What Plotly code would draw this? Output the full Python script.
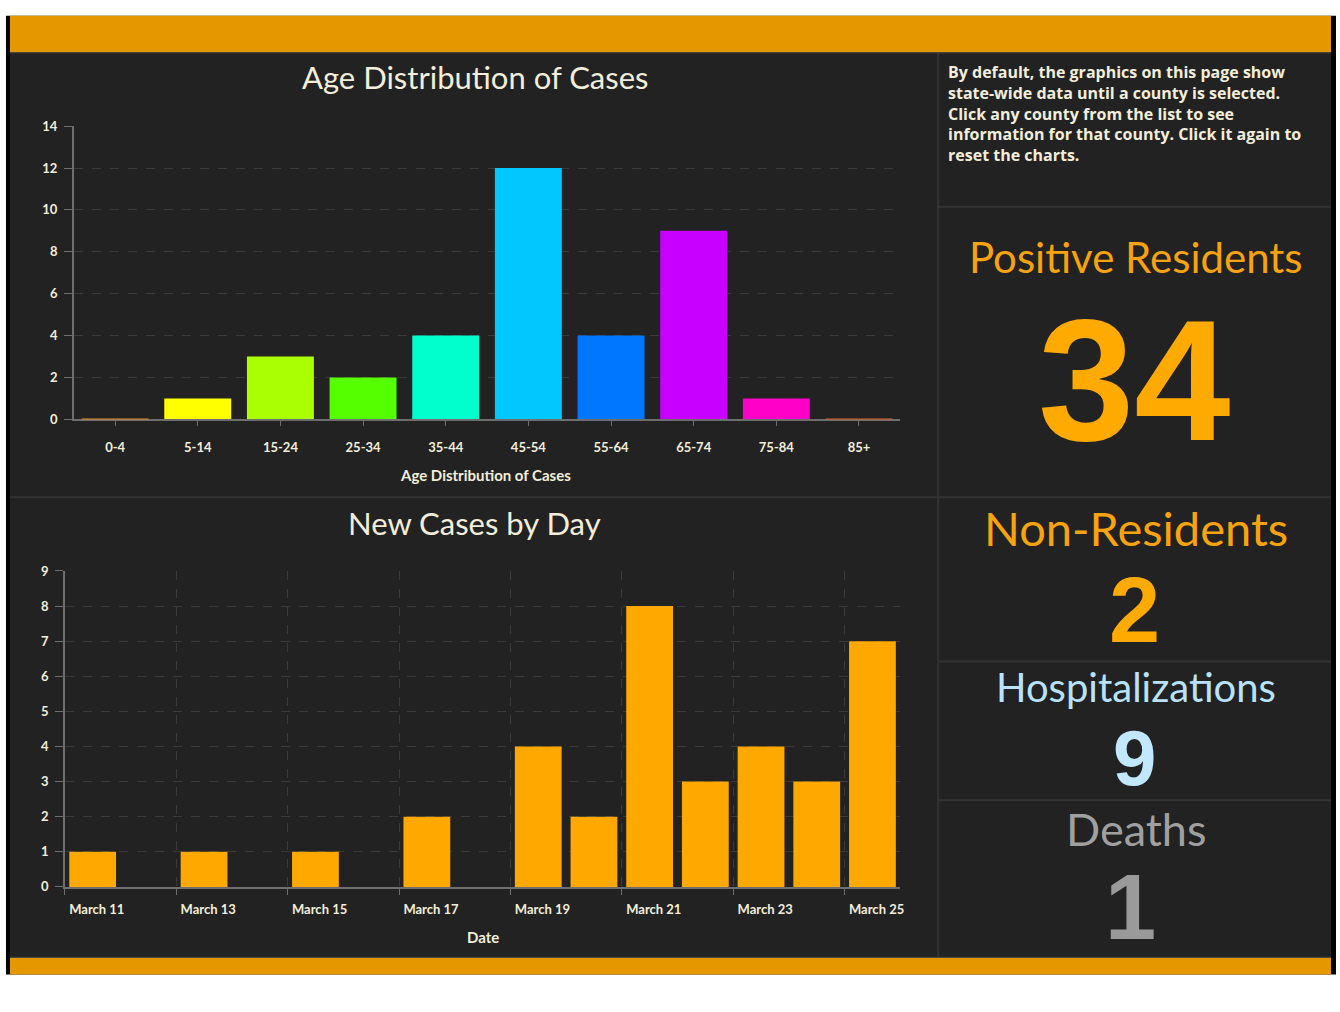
import plotly.graph_objects as go

# ---------------- data ----------------
age_groups = ["0-4", "5-14", "15-24", "25-34", "35-44", "45-54", "55-64", "65-74", "75-84", "85+"]
age_cases = [0, 1, 3, 2, 4, 12, 4, 9, 1, 0]
age_colors = ["#e8901e", "#ffff00", "#aaff00", "#55ff00", "#00ffcc",
              "#00c8ff", "#0077ff", "#c800ff", "#ff00c8", "#e0601e"]

days = ["2020-03-11", "2020-03-12", "2020-03-13", "2020-03-14", "2020-03-15",
        "2020-03-16", "2020-03-17", "2020-03-18", "2020-03-19", "2020-03-20",
        "2020-03-21", "2020-03-22", "2020-03-23", "2020-03-24", "2020-03-25"]
new_cases = [1, 0, 1, 0, 1, 0, 2, 0, 4, 2, 8, 3, 4, 3, 7]

info_text = ("By default, the graphics on this page show<br>"
             "state-wide data until a county is selected.<br>"
             "Click any county from the list to see<br>"
             "information for that county. Click it again to<br>"
             "reset the charts.")
positive_residents = 34
non_residents = 2
hospitalizations = 9
deaths = 1

# ---------------- layout helpers ----------------
W, H = 1340, 1012
def X(px):
    return max(0.0, min(1.0, px / W))
def Y(py):
    return max(0.0, min(1.0, 1 - py / H))

BG = "#222222"
ORANGE_BAR = "#e59700"
TXT = "#f2eedb"
GRID = "#3a3a3a"
AXIS = "#6e6e6e"
DAY_MS = 86400000
BAR_FRAC_AGE = 0.81

fig = go.Figure()

fig.add_trace(go.Bar(
    x=age_groups, y=age_cases, marker=dict(color=age_colors, line=dict(width=0)),
    xaxis="x", yaxis="y", showlegend=False, hoverinfo="x+y",
))

fig.add_trace(go.Bar(
    x=days, y=new_cases, xperiod=DAY_MS, xperiodalignment="middle",
    width=0.84 * DAY_MS, marker=dict(color="#ffa800", line=dict(width=0)),
    xaxis="x2", yaxis="y2", showlegend=False,
))

tickfont = dict(family="Lato", size=13, color=TXT, weight="bold")

fig.update_layout(
    width=W, height=H, margin=dict(l=0, r=0, t=0, b=0),
    paper_bgcolor="white", plot_bgcolor=BG,
    bargap=1 - BAR_FRAC_AGE,
    xaxis=dict(domain=[X(74), X(903)], anchor="y", type="category",
               range=[-0.5, len(age_groups) - 0.5],
               showgrid=False, zeroline=False, showline=True, linecolor=AXIS, linewidth=1.5,
               ticks="outside", ticklen=5, tickcolor=AXIS, tickfont=tickfont,
               ticklabelstandoff=10),
    xaxis3=dict(domain=[X(74), X(903)], anchor="y", overlaying="x", type="linear",
                range=[-0.5, len(age_groups) - 0.5], tick0=-0.5, dtick=1,
                showgrid=True, gridcolor=GRID, griddash="dash", gridwidth=1,
                showticklabels=False, ticks="", zeroline=False, showline=False),
    yaxis=dict(domain=[Y(418), Y(120)], anchor="x", range=[0, 14], dtick=2,
               showgrid=True, gridcolor=GRID, griddash="dash", zeroline=False,
               showline=True, linecolor=AXIS, linewidth=1.5,
               ticks="outside", ticklen=8, tickcolor=AXIS, tickfont=tickfont,
               ticklabelstandoff=4),
    xaxis2=dict(domain=[X(65), X(903)], anchor="y2", type="date",
                range=["2020-03-11", "2020-03-26"], tick0="2020-03-11", dtick=2 * DAY_MS,
                tickformat="%B %d",
                showgrid=True, gridcolor=GRID, griddash="dash", zeroline=False,
                showline=True, linecolor=AXIS, linewidth=1.5,
                ticks="outside", ticklen=6, tickcolor=AXIS, tickfont=tickfont,
                ticklabelshift=32, ticklabelstandoff=4),
    yaxis2=dict(domain=[Y(893), Y(572)], anchor="x2", range=[0, 9], dtick=1,
                showgrid=True, gridcolor=GRID, griddash="dash", zeroline=False,
                showline=True, linecolor=AXIS, linewidth=1.5,
                ticks="outside", ticklen=8, tickcolor=AXIS, tickfont=tickfont,
                ticklabelstandoff=4),
)

shapes = []
# outer black frame and dark panel
shapes.append(dict(type="rect", xref="paper", yref="paper", x0=X(6), x1=X(1340), y0=Y(982), y1=Y(8),
                   fillcolor="#000000", line=dict(width=0), layer="below"))
shapes.append(dict(type="rect", xref="paper", yref="paper", x0=X(10), x1=X(1335), y0=Y(965), y1=Y(45),
                   fillcolor=BG, line=dict(width=0), layer="below"))
# orange bars
shapes.append(dict(type="rect", xref="paper", yref="paper", x0=X(10), x1=X(1335), y0=Y(45), y1=Y(8),
                   fillcolor=ORANGE_BAR, line=dict(width=0), layer="below"))
shapes.append(dict(type="rect", xref="paper", yref="paper", x0=X(10), x1=X(1335), y0=Y(982), y1=Y(965),
                   fillcolor=ORANGE_BAR, line=dict(width=0), layer="below"))
# dividers
div = dict(color="#333333", width=2)
shapes.append(dict(type="line", xref="paper", yref="paper", x0=X(941), x1=X(941), y0=Y(965), y1=Y(46), line=div))
shapes.append(dict(type="line", xref="paper", yref="paper", x0=X(10), x1=X(941), y0=Y(497), y1=Y(497), line=div))
for py in [202, 497, 664, 805]:
    shapes.append(dict(type="line", xref="paper", yref="paper", x0=X(941), x1=X(1335), y0=Y(py), y1=Y(py), line=div))
shapes.append(dict(type="line", xref="paper", yref="paper", x0=X(10), x1=X(1335), y0=Y(45.5), y1=Y(45.5),
                   line=dict(color="#4a4a4a", width=1)))
shapes.append(dict(type="line", xref="paper", yref="paper", x0=X(10), x1=X(1335), y0=Y(964.5), y1=Y(964.5),
                   line=dict(color="#4a4a4a", width=1)))
# zero-value age bars are drawn as thin coloured lines
for i, (v, c) in enumerate(zip(age_cases, age_colors)):
    if v == 0:
        shapes.append(dict(type="line", xref="x", yref="y", x0=i - BAR_FRAC_AGE / 2, x1=i + BAR_FRAC_AGE / 2,
                           y0=0, y1=0, line=dict(color=c, width=2), layer="above"))
fig.update_layout(shapes=shapes)

ann = []
def add_text(text, px, py, size, color, family="Lato", weight="normal", xanchor="center", yanchor="middle", align="center"):
    ann.append(dict(text=text, x=X(px), y=Y(py), xref="paper", yref="paper", showarrow=False,
                    xanchor=xanchor, yanchor=yanchor, align=align,
                    font=dict(family=family, size=size, color=color, weight=weight)))

add_text("Age Distribution of Cases", 476, 70, 31, TXT)
add_text("Age Distribution of Cases", 487, 475, 15, TXT, weight="bold")
add_text("New Cases by Day", 476, 523, 31, TXT)
add_text("Date", 484, 944, 15, TXT, weight="bold")

add_text(info_text, 949, 52, 16, TXT, family="Open Sans", weight="bold",
         xanchor="left", yanchor="top", align="left")

add_text("Positive Residents", 1139, 253, 42, "#f7a20f")
add_text(str(positive_residents), 1137, 378, 173, "#ffaa00", family="Liberation Sans", weight="bold")
add_text("Non-Residents", 1139, 528, 47, "#f7a20f")
add_text(str(non_residents), 1138, 612, 92, "#ffaa00", family="Liberation Sans", weight="bold")
add_text("Hospitalizations", 1139, 690, 40, "#b9e2ff")
add_text(str(hospitalizations), 1138, 762, 78, "#c2e8ff", family="Liberation Sans", weight="bold")
add_text("Deaths", 1139, 834, 45, "#a0a0a0")
add_text(str(deaths), 1134, 913, 92, "#9a9a9a", family="Liberation Sans", weight="bold")

fig.update_layout(annotations=ann)

# remove the default page margin so the figure fills the window exactly
fig.write_html("out.html",
               config={"displayModeBar": False},
               post_script="document.body.style.margin='0';document.body.style.overflow='hidden';")
